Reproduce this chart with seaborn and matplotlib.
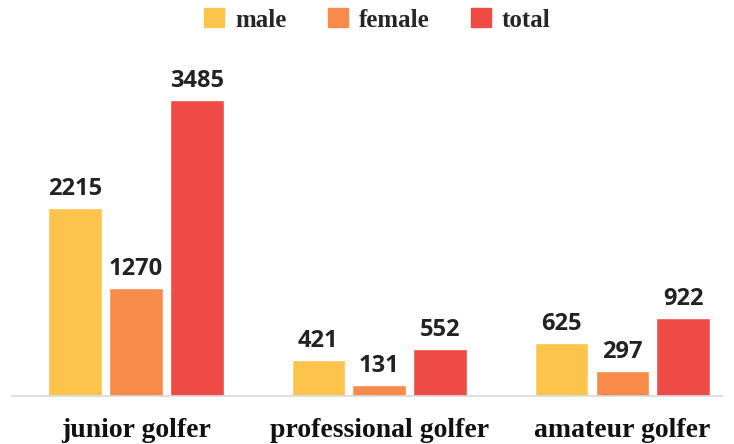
import matplotlib
matplotlib.use("Agg")
import matplotlib.pyplot as plt
import seaborn as sns
import pandas as pd

categories = ["junior golfer", "professional golfer", "amateur golfer"]
series = ["male", "female", "total"]
male = [2215, 421, 625]
female = [1270, 131, 297]
total = [3485, 552, 922]
colors = ["#FDC44B", "#F98B4A", "#EE4B47"]

rows = []
for name, vals in zip(series, [male, female, total]):
    for cat, v in zip(categories, vals):
        rows.append({"group": cat, "series": name, "value": v})
df = pd.DataFrame(rows)

sns.set_style("white")

fig = plt.figure(figsize=(7.34, 4.44), dpi=100)
ax = fig.add_axes([12 / 734, 48 / 444, 710 / 734, 356 / 444])

sns.barplot(data=df, x="group", y="value", hue="series", order=categories,
            hue_order=series, palette=colors, width=0.75, gap=0.12,
            saturation=1, ax=ax, legend=False)

for cont in ax.containers:
    ax.bar_label(cont, fmt="%d", padding=5, fontsize=17, fontweight="bold",
                 family="Open Sans", color="#222222")

ax.set_ylim(0, 4193)
ax.set_xlim(-0.51, 2.41)
ax.set_xlabel("")
ax.set_ylabel("")
ax.set_yticks([])
ax.tick_params(axis="x", length=0, pad=16)
for lbl in ax.get_xticklabels():
    lbl.set_family("Liberation Serif")
    lbl.set_fontweight("bold")
    lbl.set_fontsize(20)
    lbl.set_color("#111111")

for s in ["top", "right", "left"]:
    ax.spines[s].set_visible(False)
ax.spines["bottom"].set_color("#d9d9d9")
ax.spines["bottom"].set_linewidth(1.2)

handles = [plt.Rectangle((0, 0), 1, 1, color=c) for c in colors]
fig.legend(handles, series, loc="center", bbox_to_anchor=(0.514, 1 - 20 / 444),
           ncol=3, frameon=False, handlelength=0.8, handleheight=0.8,
           handletextpad=0.45, columnspacing=1.65, borderpad=0.2,
           prop={"family": "Liberation Serif", "weight": "bold", "size": 18})

fig.savefig("out.png", dpi=100)
